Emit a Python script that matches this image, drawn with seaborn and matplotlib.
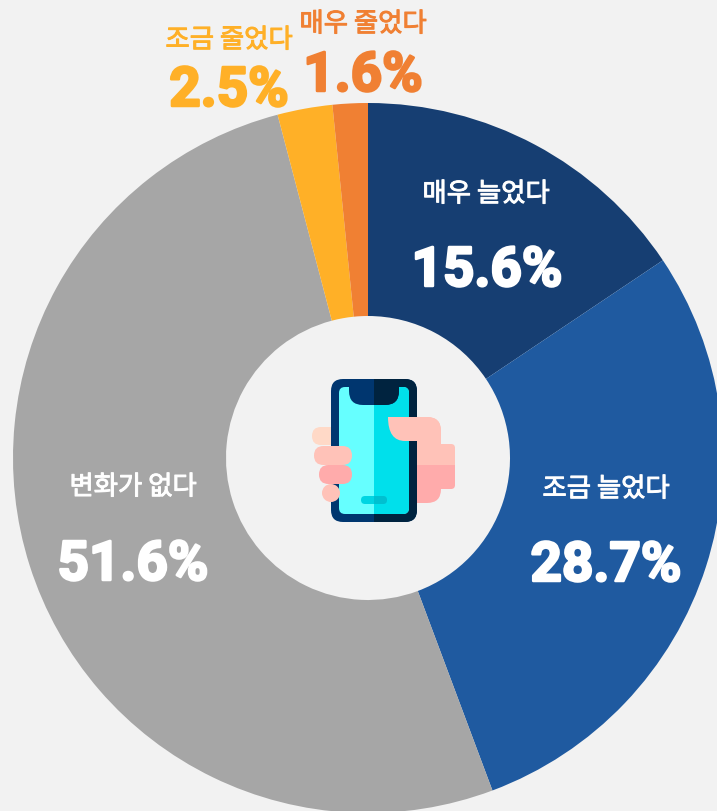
import matplotlib
matplotlib.use("Agg")
import matplotlib.pyplot as plt
import matplotlib.patheffects as pe
from matplotlib.path import Path
from matplotlib.patches import FancyBboxPatch, Rectangle, Circle, PathPatch
import seaborn as sns

categories = ["매우 늘었다", "조금 늘었다", "변화가 없다", "조금 줄었다", "매우 줄었다"]
values = [15.6, 28.7, 51.6, 2.5, 1.6]
value_labels = ["15.6%", "28.7%", "51.6%", "2.5%", "1.6%"]
colors = ["#163e72", "#1f5aa0", "#a6a6a6", "#ffb027", "#f08033"]
text_colors = ["white", "white", "white", "#ffb027", "#f08033"]
cat_pos = [(486, 194), (606, 489), (133, 487), (229, 40), (363, 24)]
val_pos = [(487, 271), (606, 566), (133, 565), (229, 91), (363, 76)]

BG = "#f2f2f2"
sns.set_theme(style="white", rc={"figure.facecolor": BG, "axes.facecolor": BG})
plt.rcParams["font.family"] = ["Noto Sans CJK KR", "DejaVu Sans"]

W, H = 717, 811
fig = plt.figure(figsize=(W / 100, H / 100), dpi=100)
ax = fig.add_axes([0, 0, 1, 1])
Y = lambda y: H - y

palette = sns.color_palette(colors)
ax.pie(values, colors=palette, startangle=90, counterclock=False, radius=355,
       center=(368, Y(458)), frame=True,
       wedgeprops=dict(width=213, edgecolor="none", linewidth=0))
ax.set_xlim(0, W)
ax.set_ylim(0, H)
ax.set_aspect("equal")
ax.axis("off")

for cat, val, tc, cp, vp in zip(categories, value_labels, text_colors, cat_pos, val_pos):
    ax.text(cp[0], Y(cp[1]), cat, color=tc, fontsize=19, ha="center", va="center",
            fontweight="medium",
            path_effects=[pe.withStroke(linewidth=0.7, foreground=tc)])
    ax.text(vp[0], Y(vp[1]), val, color=tc, fontsize=39.5, ha="center", va="center",
            family=["Roboto", "DejaVu Sans"], fontweight="bold",
            path_effects=[pe.withStroke(linewidth=1.8, foreground=tc)])


def rbox(x0, y0, x1, y1, r, color, z=3, clip=None):
    """Rounded box in image-style coordinates, optionally clipped to (x0, y0, x1, y1)."""
    p = FancyBboxPatch((x0 + r, Y(y1) + r), x1 - x0 - 2 * r, y1 - y0 - 2 * r,
                       boxstyle=f"round,pad={r},rounding_size={r}",
                       fc=color, ec="none", lw=0, zorder=z)
    ax.add_patch(p)
    if clip:
        cx0, cy0, cx1, cy1 = clip
        p.set_clip_path(Rectangle((cx0, Y(cy1)), cx1 - cx0, cy1 - cy0, transform=ax.transData))
    return p


RIGHT = (374, 0, 700, 811)
# Finger behind the phone
rbox(312, 427, 345, 445, 9, "#ffd9c7", 2)

# Back of the hand: light above y=465, darker below
LOWER = (400, 465, 470, 520)
rbox(400, 417, 441, 470, 14, "#ffc2b8", 2.5)
rbox(417, 444, 455, 470, 4, "#ffc2b8", 2.5)
rbox(400, 440, 441, 503, 14, "#ffabab", 2.6, clip=LOWER)
rbox(417, 444, 455, 489, 4, "#ffabab", 2.6, clip=LOWER)

# Phone body
rbox(331, 379, 417, 522, 12, "#00366f", 3)
rbox(331, 379, 417, 522, 12, "#00233f", 3.1, clip=RIGHT)
# Screen
rbox(339, 387, 409, 514, 6, "#66ffff", 4)
rbox(339, 387, 409, 514, 6, "#00e0eb", 4.1, clip=RIGHT)
# Notch
NOTCH = (340, 379, 410, 410)
rbox(349, 360, 399, 405, 14, "#00366f", 5, clip=NOTCH)
rbox(349, 360, 399, 405, 14, "#00233f", 5.1, clip=(374, 379, 410, 410))
# Home bar
rbox(361, 496, 387, 504, 4, "#00d5e2", 5)
rbox(361, 496, 387, 504, 4, "#00c0d0", 5.1, clip=RIGHT)

# Thumb over the phone
verts = [(388, Y(417)), (427, Y(417)), (441, Y(417)), (441, Y(431)), (441, Y(441)),
         (405, Y(441)), (388, Y(441)), (388, Y(417)), (388, Y(417))]
codes = [Path.MOVETO, Path.LINETO, Path.CURVE3, Path.CURVE3, Path.LINETO, Path.LINETO,
         Path.CURVE3, Path.CURVE3, Path.CLOSEPOLY]
ax.add_patch(PathPatch(Path(verts, codes), fc="#ffc2b8", ec="none", lw=0, zorder=6))

# Fingers over the phone
rbox(314, 446, 352, 465, 9.5, "#ffc2b8", 6)
rbox(319, 465, 352, 484, 9.5, "#ffabab", 6)
ax.add_patch(Circle((331, Y(493)), 9, fc="#ffc2b8", ec="none", zorder=6))

fig.savefig("out.png", dpi=100, facecolor=BG)
